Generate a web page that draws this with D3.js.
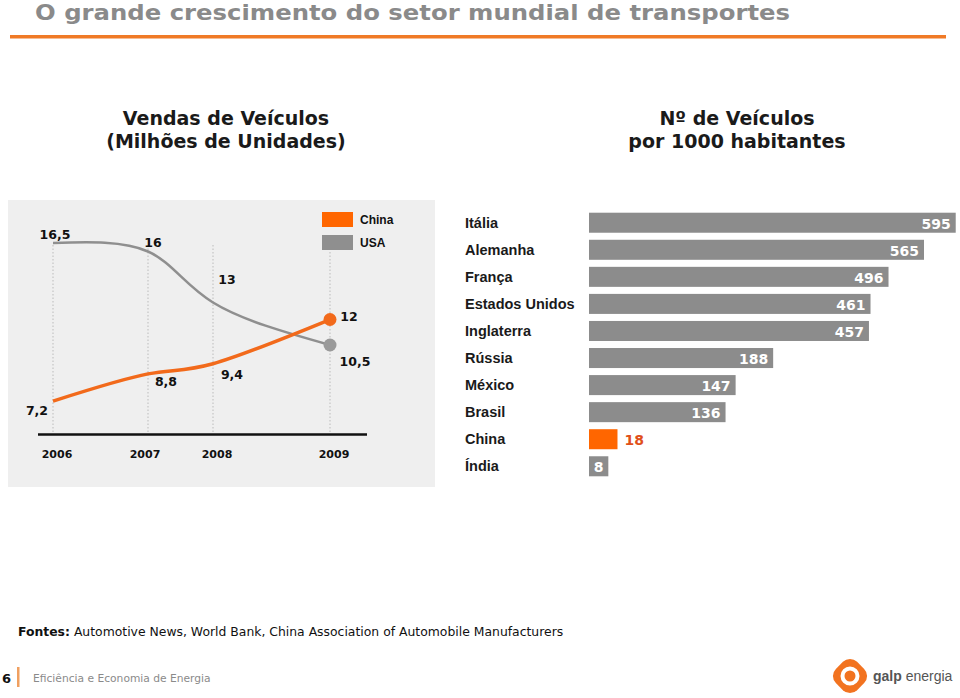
<!DOCTYPE html>
<html><head><meta charset="utf-8">
<script src="https://cdn.jsdelivr.net/npm/d3@7"></script>
<style>
body{margin:0;background:#fff;}
svg{display:block;}
text{font-family:"DejaVu Sans",Verdana,sans-serif;}
</style></head>
<body>
<script>
// ---- data ----
const years = [2006, 2007, 2008, 2009];
const chinaSales = [7.2, 8.8, 9.4, 12];
const usaSales = [16.5, 16, 13, 10.5];
const chinaLabels = ["7,2", "8,8", "9,4", "12"];
const usaLabels = ["16,5", "16", "13", "10,5"];
const seriesNames = ["China", "USA"];
const countries = ["Itália", "Alemanha", "França", "Estados Unidos", "Inglaterra", "Rússia", "México", "Brasil", "China", "Índia"];
const vehiclesPer1000 = [595, 565, 496, 461, 457, 188, 147, 136, 18, 8];

const W = 960, H = 698;
const ORANGE = "#ff6600", LINE_OR = "#f26a1b", GRAY = "#8c8c8c";
const svg = d3.select("body").append("svg").attr("width", W).attr("height", H);

// title
svg.append("text").attr("x", 35).attr("y", 20)
  .attr("font-weight", "bold").attr("font-size", 22).attr("fill", "#8a8a8a")
  .attr("textLength", 755).attr("lengthAdjust", "spacingAndGlyphs")
  .text("O grande crescimento do setor mundial de transportes");
svg.append("rect").attr("x", 10).attr("y", 35).attr("width", 936).attr("height", 3.5).attr("fill", "#f07a26");

// headers
const hdr = (x, lines) => lines.forEach((t, i) => svg.append("text").attr("x", x).attr("y", 125 + i * 23)
  .attr("text-anchor", "middle").attr("font-weight", "bold").attr("font-size", 19).attr("fill", "#1a1a1a").text(t));
hdr(226, ["Vendas de Veículos", "(Milhões de Unidades)"]);
hdr(737, ["Nº de Veículos", "por 1000 habitantes"]);

// ---- left chart ----
svg.append("rect").attr("x", 8).attr("y", 200).attr("width", 427).attr("height", 287).attr("fill", "#efefef");
const x = d3.scaleLinear().domain(years).range([53, 148, 213, 330]);
const y = d3.scaleLinear().domain([5.5, 16.5]).range([430, 243]);

const g = svg.append("g");
g.selectAll("line.grid").data(years).join("line")
  .attr("x1", d => x(d)).attr("x2", d => x(d)).attr("y1", 245).attr("y2", 435)
  .attr("stroke", "#bbb").attr("stroke-width", 1).attr("stroke-dasharray", "1.5,2");
g.append("line").attr("x1", 38).attr("x2", 367).attr("y1", 434.5).attr("y2", 434.5).attr("stroke", "#111").attr("stroke-width", 2.5);
g.selectAll("text.yr").data(years).join("text")
  .attr("x", (d, i) => x(d) + [4, -3, 4, 4][i]).attr("y", 458).attr("text-anchor", "middle")
  .attr("font-weight", "bold").attr("font-size", 11).attr("fill", "#111").text(d => d);

const line = d3.line().x((d, i) => x(years[i])).y(d => y(d)).curve(d3.curveNatural);
g.append("path").attr("d", line(usaSales)).attr("fill", "none").attr("stroke", "#8f8f8f").attr("stroke-width", 2.5);
g.append("path").attr("d", line(chinaSales)).attr("fill", "none").attr("stroke", LINE_OR).attr("stroke-width", 3.5);
g.append("circle").attr("cx", x(2009)).attr("cy", y(usaSales[3])).attr("r", 6.5).attr("fill", "#9a9a9a");
g.append("circle").attr("cx", x(2009)).attr("cy", y(chinaSales[3])).attr("r", 6.5).attr("fill", LINE_OR);

const usaOff = [[2, -9], [5, -9], [14, -23], [25, 16]];
const chOff = [[-16, 9], [18, 8], [19, 11], [19, -3]];
const lab = (vals, labels, offs) => vals.forEach((v, i) => g.append("text")
  .attr("x", x(years[i]) + offs[i][0]).attr("y", y(v) + offs[i][1] + 4.5).attr("text-anchor", "middle")
  .attr("font-weight", "bold").attr("font-size", 12.5).attr("fill", "#111").text(labels[i]));
lab(usaSales, usaLabels, usaOff);
lab(chinaSales, chinaLabels, chOff);

// legend
const leg = svg.append("g");
seriesNames.forEach((s, i) => {
  leg.append("rect").attr("x", 322).attr("y", 212 + i * 23).attr("width", 31).attr("height", 15)
    .attr("fill", i === 0 ? ORANGE : "#8f8f8f");
  leg.append("text").attr("x", 360).attr("y", 224 + i * 23)
    .style("font-family", "'Liberation Sans',Arial,sans-serif")
    .attr("font-weight", "bold").attr("font-size", 12).attr("fill", "#111").text(s);
});

// ---- right chart ----
const yb = d3.scaleBand().domain(countries).range([210, 479]).paddingInner(0.26).paddingOuter(0.1);
const xb = d3.scaleLinear().domain([0, 190, 460, 565, 600]).range([12, 186, 281, 335, 372]);
const x0 = 589;
const rg = svg.append("g");
rg.selectAll("text.cty").data(countries).join("text")
  .attr("x", 465).attr("y", d => yb(d) + yb.bandwidth() / 2 + 5)
  .style("font-family", "'Liberation Sans',Arial,sans-serif")
  .attr("font-weight", "bold").attr("font-size", 14.5).attr("fill", "#1a1a1a").text(d => d);
rg.selectAll("rect.bar").data(countries).join("rect")
  .attr("x", x0).attr("y", d => yb(d)).attr("height", yb.bandwidth())
  .attr("width", (d, i) => xb(vehiclesPer1000[i]))
  .attr("fill", d => d === "China" ? ORANGE : GRAY);
rg.selectAll("text.val").data(countries).join("text")
  .attr("x", (d, i) => d === "China" ? x0 + xb(vehiclesPer1000[i]) + 7 : d === "Índia" ? x0 + xb(vehiclesPer1000[i]) / 2 : x0 + xb(vehiclesPer1000[i]) - 5)
  .attr("y", d => yb(d) + yb.bandwidth() / 2 + 6)
  .attr("text-anchor", d => d === "China" ? "start" : d === "Índia" ? "middle" : "end")
  .attr("font-weight", "bold").attr("font-size", 14)
  .attr("fill", d => d === "China" ? "#e0501a" : "#fff")
  .text((d, i) => vehiclesPer1000[i]);

// ---- footer ----
const f = svg.append("text").attr("x", 18).attr("y", 636).attr("font-size", 12.4).attr("fill", "#111");
f.append("tspan").attr("font-weight", "bold").text("Fontes:");
f.append("tspan").text(" Automotive News, World Bank, China Association of Automobile Manufacturers");
svg.append("text").attr("x", 2).attr("y", 683).attr("font-weight", "bold").attr("font-size", 13).attr("fill", "#111").text("6");
svg.append("rect").attr("x", 17).attr("y", 667).attr("width", 2.5).attr("height", 20).attr("fill", "#f0a060");
svg.append("text").attr("x", 33).attr("y", 682).attr("font-size", 10.7).attr("fill", "#8a8a8a").text("Eficiência e Economia de Energia");

// logo
const lg = svg.append("g").attr("transform", "translate(850,676) rotate(45)");
lg.append("rect").attr("x", -15).attr("y", -15).attr("width", 30).attr("height", 30).attr("rx", 10).attr("fill", "#f27320");
const lg2 = svg.append("g").attr("transform", "translate(850,676)");
lg2.append("circle").attr("r", 7.5).attr("fill", "none").attr("stroke", "#fff").attr("stroke-width", 4);
lg2.append("circle").attr("cx", 1).attr("cy", 1).attr("r", 2.5).attr("fill", "#f27320");
const lt = svg.append("text").attr("x", 873).attr("y", 681).attr("font-size", 14).attr("fill", "#555")
  .style("font-family", "'Liberation Sans',Arial,sans-serif");
lt.append("tspan").attr("font-weight", "bold").text("galp");
lt.append("tspan").text(" energia");
</script>
</body></html>
